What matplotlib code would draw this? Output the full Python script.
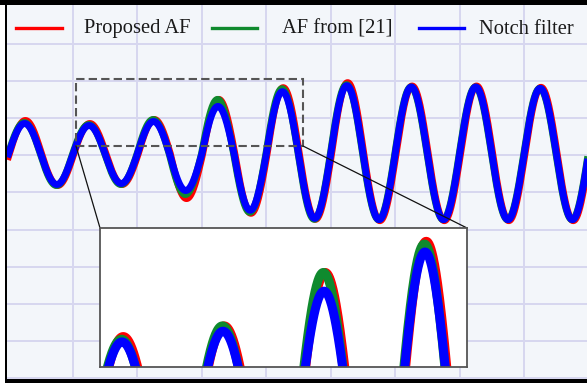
import numpy as np
import matplotlib
matplotlib.use("Agg")
import matplotlib.pyplot as plt
from matplotlib.patches import Rectangle
from matplotlib.lines import Line2D

# Peak magnitude (p.u.) of each half-cycle of the extracted fundamental,
# starting with the first positive half-cycle.
proposed_af = [0.50, 0.47, 0.455, 0.455, 0.515, 0.665, 0.815, 0.885, 0.99,
               0.975, 1.065, 0.995, 1.015, 0.995, 1.015, 0.995, 0.995, 0.995]
af_ref21 = [0.47, 0.47, 0.44, 0.455, 0.515, 0.605, 0.815, 0.87, 0.975,
            0.975, 1.035, 0.98, 1.0, 0.98, 1.0, 0.98, 0.98, 0.98]
notch_filter = [0.455, 0.455, 0.425, 0.44, 0.485, 0.545, 0.71, 0.84, 0.93,
                0.96, 1.02, 0.98, 1.0, 0.98, 1.0, 0.98, 0.98, 0.98]
# Phase delay of each estimate relative to the notch filter (cycles)
phase_lag = [0.012, -0.006, 0.0]
series_names = ["Proposed AF", "AF from [21]", "Notch filter"]
series_colors = ["#ff0000", "#0f8a2e", "#0000ff"]

W, H = 587, 383
fig = plt.figure(figsize=(W / 100, H / 100), dpi=100)
fig.patch.set_facecolor("white")


def fig_box(x0, y0, x1, y1):
    return [x0 / W, 1 - y1 / H, (x1 - x0) / W, (y1 - y0) / H]


# pixel <-> data mapping of the main axes
X0, PX_CYCLE = 8.5, 64.45
Y0, PX_PU = 154.0, 67.0


def tx(px):
    return (px - X0) / PX_CYCLE


def vy(py):
    return (Y0 - py) / PX_PU


def waveform(half_peaks, lag, samples_per_cycle=200):
    n = len(half_peaks)
    t = np.arange(0, n // 2 * samples_per_cycle + 1) / samples_per_cycle
    idx = np.clip(np.floor((t - lag) * 2).astype(int), 0, n - 1)
    return t, np.asarray(half_peaks)[idx] * np.sin(2 * np.pi * (t - lag))


all_series = [proposed_af, af_ref21, notch_filter]
curves = [waveform(p, lag) for p, lag in zip(all_series, phase_lag)]

ax = fig.add_axes(fig_box(7, 5, 587, 379))
ax.set_facecolor("#f3f6fa")
ax.set_xlim(tx(7), tx(587))
ax.set_ylim(vy(379), vy(5))
ax.set_xticks(np.arange(1, 9))
ax.set_yticks([vy(44.3 + 37.05 * k) for k in range(0, 10)])
ax.grid(True, color="#d7d7ef", linewidth=1.4)
ax.tick_params(length=0, labelbottom=False, labelleft=False)
for s in ax.spines.values():
    s.set_visible(False)

for (t, y), c in zip(curves, series_colors):
    ax.plot(t, y, color=c, linewidth=5, zorder=3)

# zoom window
zx0, zy0, zx1, zy1 = 76, 79, 303, 146
ax.add_patch(Rectangle((tx(zx0), vy(zy1)), tx(zx1) - tx(zx0), vy(zy0) - vy(zy1),
                       fill=False, edgecolor="#555555", linewidth=1.5,
                       linestyle=(0, (4, 2)), zorder=5))

# connectors from zoom window to inset
ix0, iy0, ix1, iy1 = 100, 228, 467, 367
for (ax_px, ay_px), (bx_px, by_px) in [((zx0, zy1), (ix0, iy0)),
                                       ((zx1, zy1), (ix1, iy0))]:
    fig.add_artist(Line2D([ax_px / W, bx_px / W], [1 - ay_px / H, 1 - by_px / H],
                          transform=fig.transFigure, color="#111111",
                          linewidth=0.9, zorder=6))

# inset
axi = fig.add_axes(fig_box(ix0, iy0, ix1, iy1))
axi.set_zorder(10)
axi.set_facecolor("white")
axi.set_xlim(1.032, 4.666)
axi.set_ylim(0.284, 1.065)
axi.set_xticks([])
axi.set_yticks([])
for s in axi.spines.values():
    s.set_color("#555555")
    s.set_linewidth(1.3)
for (t, y), c in zip(curves, series_colors):
    axi.plot(t, y, color=c, linewidth=6.5)

# legend row
legend_y = 28
handle_spans = [(16, 62), (212, 257), (419, 464)]
text_x = [84.5, 282, 479]
for (h0, h1), tx0, name, c in zip(handle_spans, text_x, series_names, series_colors):
    fig.add_artist(Line2D([h0 / W, h1 / W], [1 - legend_y / H] * 2,
                          transform=fig.transFigure, color=c, linewidth=2.4,
                          zorder=7))
    fig.text(tx0 / W, 1 - 33.5 / H, name, family="Liberation Serif",
             fontsize=14.8, color="#1a1a1a", va="baseline", ha="left", zorder=7)

# outer frame
for (x0, y0, x1, y1) in [(0, 0, 587, 5), (5, 0, 7, 383), (5, 379, 587, 383)]:
    fig.add_artist(Rectangle((x0 / W, 1 - y1 / H), (x1 - x0) / W, (y1 - y0) / H,
                             transform=fig.transFigure, facecolor="black",
                             edgecolor="none", zorder=8))

fig.savefig("out.png", dpi=100)
